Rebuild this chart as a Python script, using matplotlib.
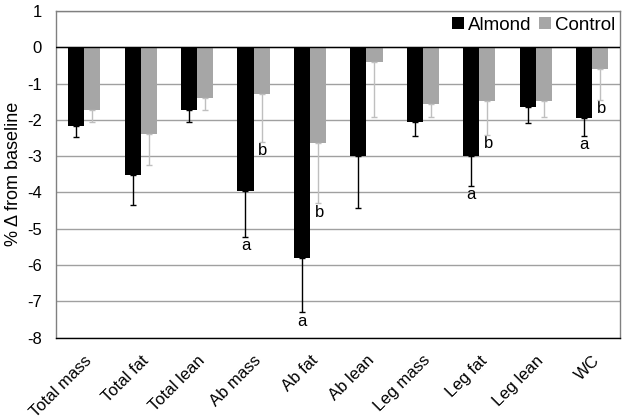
import matplotlib
matplotlib.use("Agg")
import matplotlib.pyplot as plt
import numpy as np

plt.rcParams['font.family'] = ['Liberation Sans', 'DejaVu Sans']

categories = ["Total mass", "Total fat", "Total lean", "Ab mass", "Ab fat",
              "Ab lean", "Leg mass", "Leg fat", "Leg lean", "WC"]
almond = [-2.17, -3.52, -1.74, -3.95, -5.82, -2.99, -2.06, -2.99, -1.65, -1.96]
almond_err = [0.29, 0.84, 0.33, 1.27, 1.49, 1.44, 0.38, 0.83, 0.44, 0.48]
control = [-1.74, -2.39, -1.39, -1.28, -2.65, -0.41, -1.56, -1.48, -1.48, -0.60]
control_err = [0.31, 0.85, 0.35, 1.32, 1.65, 1.51, 0.36, 0.93, 0.44, 0.84]
almond_letters = ["", "", "", "a", "a", "", "", "a", "", "a"]
control_letters = ["", "", "", "b", "b", "", "", "b", "", "b"]
yticks = list(range(-8, 2))

fig = plt.figure(figsize=(6.22, 4.19), dpi=100)
ax = fig.add_axes([0.090, 0.1945, 0.9075, 0.779])

x = np.arange(len(categories))
w = 0.285
a_col = "#000000"
c_col = "#a6a6a6"

ax.bar(x - w/2, almond, w, color=a_col, label="Almond", zorder=3)
ax.bar(x + w/2, control, w, color=c_col, label="Control", zorder=3)

# one-sided (downward) error bars
ax.errorbar(x - w/2, almond, yerr=[almond_err, [0]*len(x)], fmt='none',
            ecolor=a_col, elinewidth=1, capsize=2.5, capthick=1, zorder=4)
ax.errorbar(x + w/2, control, yerr=[control_err, [0]*len(x)], fmt='none',
            ecolor="#bfbfbf", elinewidth=1, capsize=2.5, capthick=1, zorder=4)

for i in range(len(x)):
    if almond_letters[i]:
        ax.annotate(almond_letters[i], (x[i] - w/2, almond[i] - almond_err[i]),
                    xytext=(0, -1), textcoords='offset points',
                    ha='center', va='top', fontsize=12)
    if control_letters[i]:
        ax.annotate(control_letters[i], (x[i] + w/2, control[i] - control_err[i]),
                    xytext=(1, -1), textcoords='offset points',
                    ha='center', va='top', fontsize=12)

ax.set_ylim(-8, 1)
ax.set_xlim(-0.5, len(x) - 0.5)
ax.set_yticks(yticks)
ax.set_yticklabels([str(t) for t in yticks], fontsize=12)
ax.set_xticks(x)
ax.set_xticklabels(categories, rotation=45, ha='right', rotation_mode='anchor', fontsize=12)
ax.tick_params(axis='y', length=0, pad=10)
ax.tick_params(axis='x', length=0, pad=11)
ax.set_ylabel("% \u0394 from baseline", fontsize=13, labelpad=4)

ax.grid(axis='y', color='#a0a0a0', linewidth=1, zorder=0)
ax.axhline(0, color='black', linewidth=1, zorder=5)
for s in ax.spines.values():
    s.set_color('#808080')
    s.set_linewidth(1)
ax.spines['bottom'].set_color('black')

leg = ax.legend(loc='upper right', ncol=2, frameon=False, fontsize=13.5,
                handlelength=0.65, handleheight=0.65, handletextpad=0.2,
                columnspacing=0.4, borderaxespad=0.1, borderpad=0.2,
                bbox_to_anchor=(1.0, 1.0))

fig.savefig("out.png", dpi=100)
